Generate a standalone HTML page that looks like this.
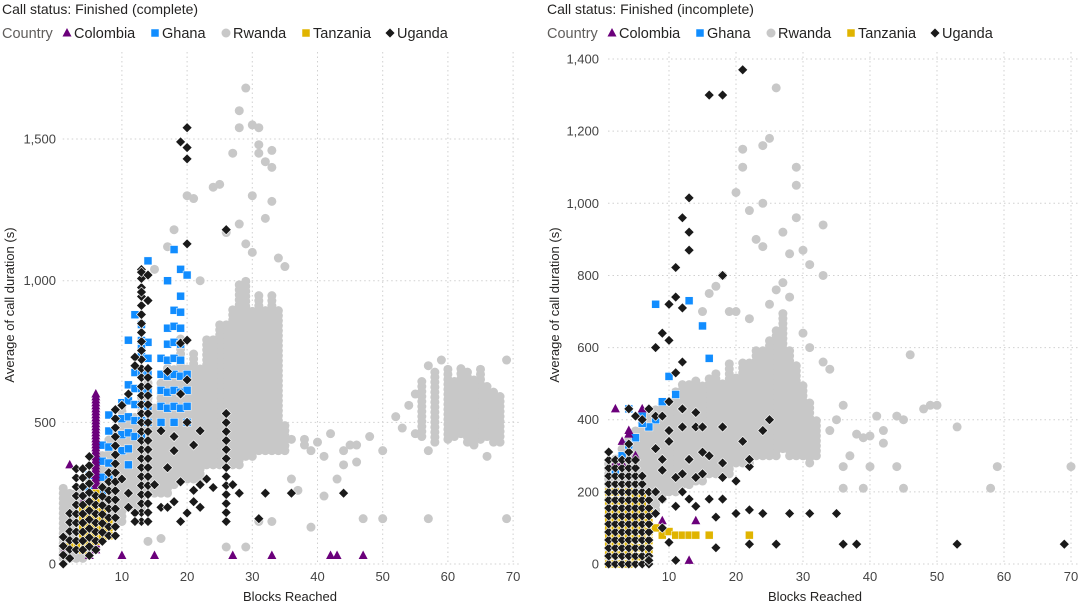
<!DOCTYPE html>
<html><head><meta charset="utf-8"><style>
body{margin:0;background:#fff;font-family:"Liberation Sans",sans-serif;}
svg text{font-family:"Liberation Sans",sans-serif;}
</style></head><body>
<svg id="c" width="1084" height="605" xmlns="http://www.w3.org/2000/svg"></svg>
<script>
// ---------- data ----------
const xTicks = [10,20,30,40,50,60,70];
const leftYTicks = [0,500,1000,1500];
const leftYLabels = ["0","500","1,000","1,500"];
const rightYTicks = [0,200,400,600,800,1000,1200,1400];
const rightYLabels = ["0","200","400","600","800","1,000","1,200","1,400"];
const countries = ["Colombia","Ghana","Rwanda","Tanzania","Uganda"];

// columns: [block, low, high]; points: [block, value]
const L_rwanda_cols = [[1,20,270],[2,20,260],[3,20,250],[4,20,280],[5,50,300],[6,80,350],[7,100,400],[8,120,450],[9,150,480],[10,150,560],[11,200,500],[12,200,520],[13,200,600],[14,250,650],[15,250,550],[16,250,650],[17,250,700],[18,280,700],[19,300,800],[20,300,700],[21,300,750],[22,300,700],[23,350,800],[24,350,800],[25,350,850],[26,350,850],[27,350,900],[28,350,1000],[29,380,1000],[30,380,900],[31,400,950],[32,400,900],[33,400,950],[34,400,900],[35,400,500],[56,450,650],[58,430,680],[60,440,700],[61,450,650],[62,460,700],[63,430,680],[64,420,650],[65,440,690],[66,450,640],[67,430,620],[68,450,600]];
const L_rwanda_pts = [[27,1450],[28,1600],[28,1540],[29,1680],[30,1550],[31,1540],[31,1480],[31,1450],[32,1420],[33,1460],[33,1400],[24,1330],[25,1340],[20,1300],[21,1290],[18,1180],[17,1120],[26,1170],[28,1200],[30,1300],[32,1220],[33,1280],[30,1100],[35,1050],[34,1080],[15,1040],[22,1000],[29,1130],[40,430],[38,440],[42,460],[45,420],[44,400],[48,450],[50,400],[46,360],[36,300],[37,260],[41,240],[43,300],[47,160],[50,160],[57,160],[69,160],[39,130],[14,80],[16,90],[26,60],[29,60],[33,150],[31,150],[52,520],[54,560],[55,600],[57,700],[59,720],[69,720],[53,480],[55,460],[57,400],[66,380],[68,430],[38,420],[41,380],[36,440],[39,400],[44,350],[46,420]];
const L_ghana_cols = [[5,200,350],[7,250,450],[8,300,560],[10,400,600],[11,350,650],[12,450,700],[13,450,850],[14,500,800],[16,500,750],[17,550,850],[18,500,900],[19,550,1000],[20,500,700]];
const L_ghana_pts = [[14,1070],[18,1110],[19,1040],[17,1000],[20,1020],[12,880],[11,790],[13,760]];
const L_col_cols = [[6,50,600]];
const L_col_pts = [[2,350],[1,40],[5,30],[10,30],[15,30],[27,30],[33,30],[42,30],[43,30],[47,30],[6,600],[4,220]];
const L_tan_cols = [[4,50,200],[5,80,200],[6,80,250],[7,100,200],[8,100,180]];
const L_tan_pts = [[3,70],[2,60]];
const L_uga_cols = [[1,0,120],[2,20,200],[3,50,350],[4,50,350],[5,30,380],[6,50,250],[7,80,280],[8,100,330],[9,100,550],[13,150,1040],[14,150,700],[26,150,560]];
const L_uga_pts = [[20,1540],[19,1490],[20,1470],[20,1430],[20,1130],[26,1180],[19,780],[20,790],[13,1030],[14,1020],[13,960],[14,930],[12,730],[12,700],[10,560],[11,600],[17,680],[19,600],[20,650],[16,470],[18,450],[21,420],[22,470],[20,500],[18,400],[17,340],[19,290],[21,260],[22,280],[21,220],[22,200],[24,270],[28,250],[32,250],[36,250],[44,250],[31,160],[19,150],[20,180],[15,280],[16,200],[17,200],[18,220],[10,300],[11,250],[12,180],[11,200],[12,150],[23,300],[27,280]];

const R_rwanda_cols = [[1,0,280],[2,0,300],[3,0,320],[4,0,350],[5,50,380],[6,100,400],[7,150,420],[8,150,440],[9,180,450],[10,200,450],[11,200,480],[12,220,500],[13,220,500],[14,230,520],[15,230,500],[16,250,520],[17,250,540],[18,250,500],[19,250,560],[20,280,520],[21,280,560],[22,280,560],[23,300,600],[24,300,600],[25,300,620],[26,300,650],[27,320,700],[28,300,600],[29,300,560],[30,300,500],[31,280,450],[32,300,400]];
const R_rwanda_pts = [[21,1150],[21,1100],[25,1180],[26,1320],[24,1160],[29,1100],[29,1050],[20,1030],[23,900],[22,980],[24,1000],[27,920],[24,880],[29,960],[30,870],[33,940],[28,860],[31,830],[33,800],[36,440],[35,400],[38,360],[41,410],[44,410],[45,400],[48,430],[49,440],[53,380],[40,355],[39,350],[42,335],[36,270],[40,270],[44,270],[59,270],[70,270],[58,210],[45,210],[39,210],[36,210],[37,300],[42,370],[34,370],[46,580],[50,440],[16,750],[17,770],[18,800],[19,700],[20,700],[15,700],[27,780],[28,740],[25,720],[22,680],[33,560],[34,540],[31,600],[30,640],[26,760]];
const R_ghana_pts = [[8,720],[4,430],[6,410],[10,520],[13,730],[15,660],[16,570],[11,470],[9,450],[8,400],[5,350],[4,330],[3,300],[7,380],[6,390],[1,200],[2,250]];
const R_col_pts = [[2,430],[3,340],[4,360],[4,370],[3,280],[5,300],[13,10],[14,120],[9,120],[6,430],[2,280]];
const R_tan_cols = [[1,0,200],[2,0,200],[3,0,190],[4,0,200],[5,20,200],[6,20,200],[7,40,150]];
const R_tan_pts = [[9,80],[10,90],[11,80],[12,80],[13,80],[14,80],[16,80],[22,80],[8,100]];
const R_uga_cols = [[1,0,330],[2,0,300],[3,0,300],[4,0,340],[5,0,300],[6,0,260],[7,0,220]];
const R_uga_pts = [[21,1370],[16,1300],[18,1300],[13,1015],[12,960],[13,920],[13,870],[11,822],[11,740],[10,720],[12,710],[18,800],[9,640],[10,620],[8,600],[12,560],[11,530],[22,150],[24,140],[28,140],[31,140],[35,140],[20,140],[22,55],[26,55],[36,55],[38,55],[53,55],[69,55],[17,45],[11,10],[7,10],[16,180],[18,180],[25,400],[24,370],[21,340],[20,230],[22,270],[22,290],[18,280],[18,240],[16,300],[15,310],[13,290],[12,250],[14,240],[15,250],[13,180],[12,200],[11,240],[11,160],[14,160],[17,130],[9,260],[9,290],[8,320],[10,340],[10,370],[12,380],[14,380],[15,380],[18,380],[8,410],[9,410],[12,430],[14,420],[6,400],[5,410],[4,430],[7,430],[10,450],[8,140],[9,100],[10,60],[8,200],[9,180]];

// ---------- drawing ----------
const NS="http://www.w3.org/2000/svg";
const svg=document.getElementById('c');
function el(tag,attrs,parent){const e=document.createElementNS(NS,tag);for(const k in attrs)e.setAttribute(k,attrs[k]);(parent||svg).appendChild(e);return e;}
const COLORS={Colombia:"#6B007B",Ghana:"#118DFF",Rwanda:"#C8C8C8",Tanzania:"#E0B400",Uganda:"#1A1A1A"};
function marker(g,country,cx,cy){
  let m;
  if(country==="Rwanda"){m=el('circle',{cx:cx,cy:cy,r:4.5,fill:COLORS.Rwanda},g);}
  else if(country==="Ghana"||country==="Tanzania"){m=el('rect',{x:cx-4,y:cy-4,width:8,height:8,fill:COLORS[country],stroke:'#fff','stroke-width':0.5},g);}
  else if(country==="Colombia"){m=el('polygon',{points:`${cx},${cy-5} ${cx+4.5},${cy+3.5} ${cx-4.5},${cy+3.5}`,fill:COLORS.Colombia},g);}
  else {m=el('polygon',{points:`${cx},${cy-5} ${cx+5},${cy} ${cx},${cy+5} ${cx-5},${cy}`,fill:COLORS.Uganda,stroke:'#fff','stroke-width':0.6},g);}
  
  
}
function panel(p){
  const g=el('g',{});
  
  
  const x=b=>p.x0+p.xs*b, y=v=>p.y0-p.ys*v;
  const t=el('text',{x:p.tx,y:14,'font-size':14,fill:'#252423'},g);t.textContent=p.title;
  
  const lg=el('g',{},g);
  let lt=el('text',{x:p.tx,y:38,'font-size':14.5,fill:'#605E5C'},lg);lt.textContent="Country";
  
  let lx=p.tx+65;
  const widths={Colombia:74,Ghana:57,Rwanda:66,Tanzania:70,Uganda:60};
  countries.forEach(c=>{
    const le=el('g',{},lg);
    
    
    marker(le,c,lx,33);
    const tt=el('text',{x:lx+7,y:38,'font-size':14.5,fill:'#252423'},le);tt.textContent=c;
    lx+=widths[c]+14;
  });
  xTicks.forEach(v=>{
    const l=el('line',{x1:x(v),x2:x(v),y1:p.top,y2:p.y0,stroke:'#d0d0d0','stroke-dasharray':'1.5,3'},g);
    
    const tx=el('text',{x:x(v),y:p.y0+17,'font-size':13,fill:'#444','text-anchor':'middle'},g);tx.textContent=v;
    
  });
  p.yt.forEach((v,i)=>{
    const l=el('line',{x1:p.x0+6,x2:p.right,y1:y(v),y2:y(v),stroke:'#d0d0d0','stroke-dasharray':'1.5,3'},g);
    
    const tx=el('text',{x:p.lx,y:y(v)+4.5,'font-size':13,fill:'#444','text-anchor':'end'},g);tx.textContent=p.yl[i];
    
  });
  const xt=el('text',{x:p.xtitle,y:601,'font-size':13,fill:'#252423','text-anchor':'middle'},g);xt.textContent="Blocks Reached";
  
  const yt=el('text',{x:0,y:0,'font-size':13,fill:'#252423','text-anchor':'middle',transform:`translate(${p.ytx},305) rotate(-90)`},g);yt.textContent="Average of call duration (s)";
  
  p.series.forEach(s=>{
    const sg=el('g',{},g);
    
    
    (s.cols||[]).forEach(col=>{
      const py1=y(col[1]),py2=y(col[2]);
      for(let py=py1;py>=py2-0.01;py-=s.gap){marker(sg,s.c,x(col[0]),py);}
    });
    (s.pts||[]).forEach(pt=>marker(sg,s.c,x(pt[0]),y(pt[1])));
  });
}
panel({name:'panel-complete',title:'Call status: Finished (complete)',tx:2,x0:56.7,xs:6.52,y0:564,ys:0.2833,top:52,right:520,lx:56,
  yt:leftYTicks,yl:leftYLabels,xtitle:290,ytx:14,
  series:[{c:'Rwanda',cols:L_rwanda_cols,pts:L_rwanda_pts,gap:5},{c:'Ghana',cols:L_ghana_cols,pts:L_ghana_pts,gap:16},{c:'Colombia',cols:L_col_cols,pts:L_col_pts,gap:3},{c:'Tanzania',cols:L_tan_cols,pts:L_tan_pts,gap:8},{c:'Uganda',cols:L_uga_cols,pts:L_uga_pts,gap:9}]});
panel({name:'panel-incomplete',title:'Call status: Finished (incomplete)',tx:547,x0:602,xs:6.7,y0:564,ys:0.3607,top:52,right:1080,lx:599,
  yt:rightYTicks,yl:rightYLabels,xtitle:815,ytx:559,
  series:[{c:'Rwanda',cols:R_rwanda_cols,pts:R_rwanda_pts,gap:5},{c:'Ghana',pts:R_ghana_pts,gap:10},{c:'Colombia',pts:R_col_pts,gap:5},{c:'Tanzania',cols:R_tan_cols,pts:R_tan_pts,gap:9},{c:'Uganda',cols:R_uga_cols,pts:R_uga_pts,gap:8}]});
</script>
</body></html>
